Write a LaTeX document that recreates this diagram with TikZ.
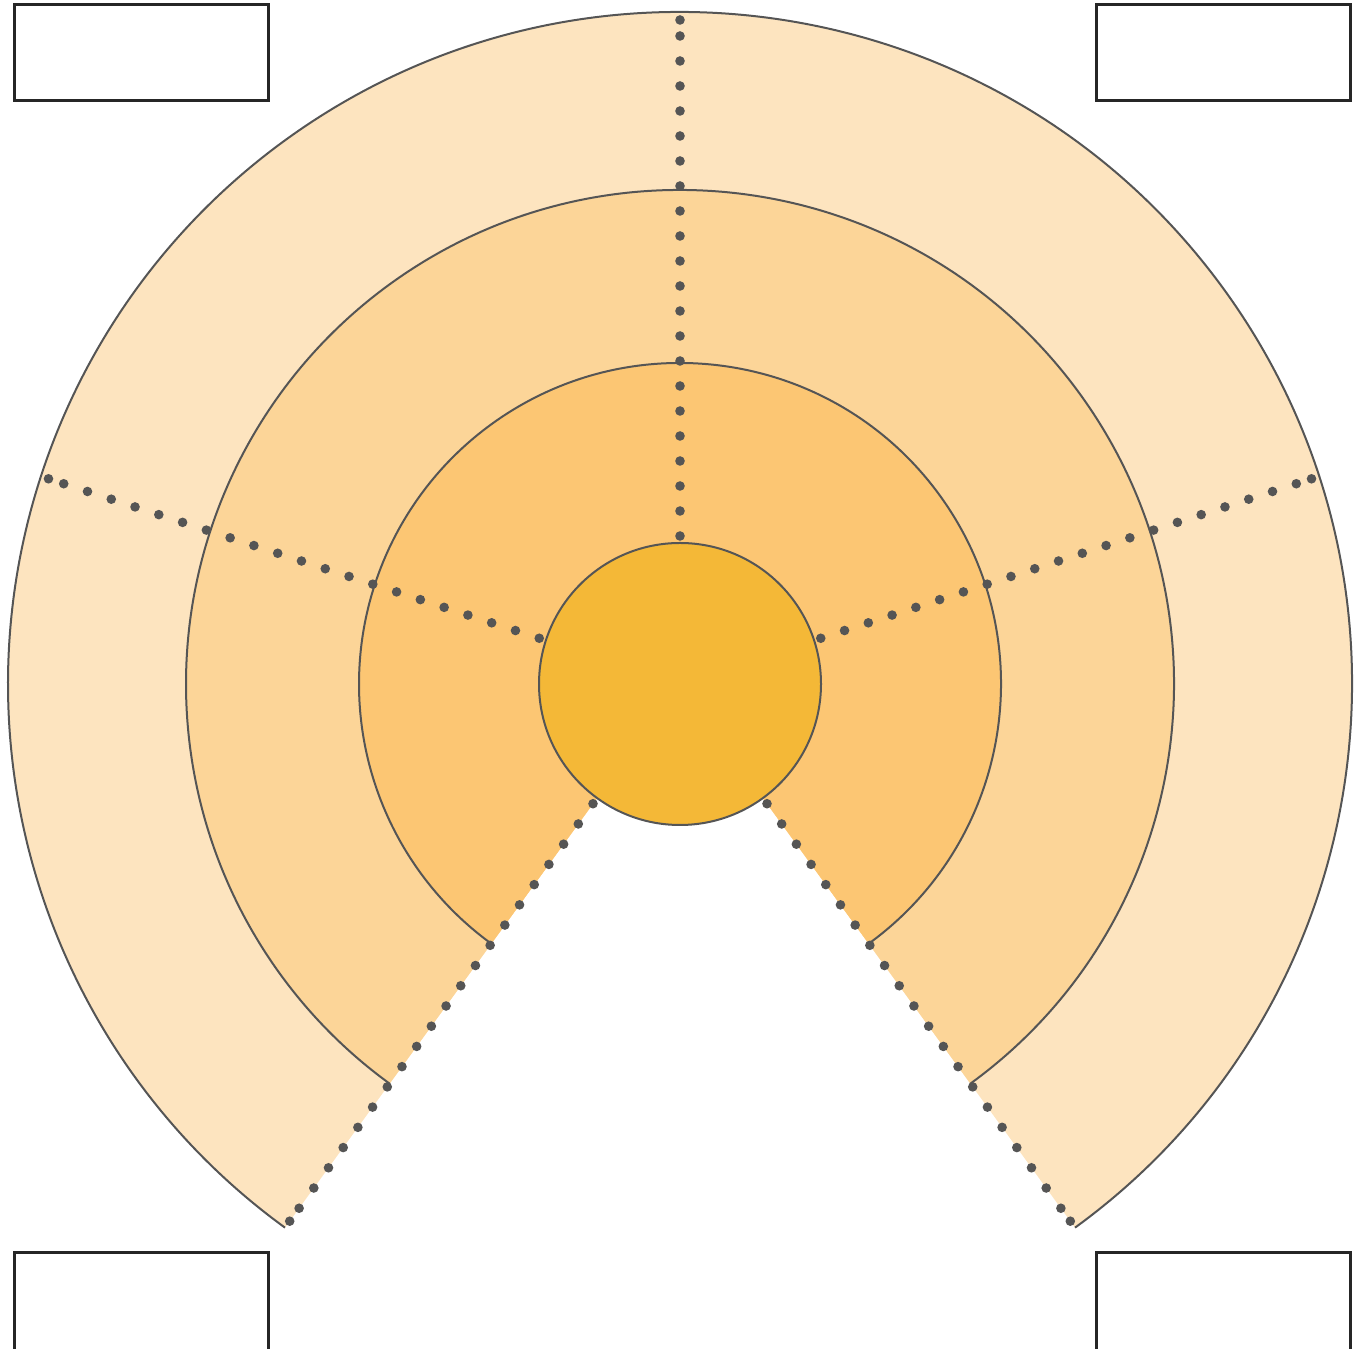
\documentclass[tikz,border=0pt]{standalone}
\usetikzlibrary{calc}
\definecolor{ringA}{HTML}{FDE4BF}
\definecolor{ringB}{HTML}{FCD598}
\definecolor{ringC}{HTML}{FCC673}
\definecolor{core}{HTML}{F4B837}
\definecolor{edge}{HTML}{555555}
\definecolor{boxedge}{HTML}{262626}
\begin{document}
\begin{tikzpicture}[x=1pt,y=1pt,
  ringline/.style={draw=edge,line width=2pt},
  dotmark/.style={fill=edge},
  box/.style={draw=boxedge,fill=white,line width=3pt,minimum width=254pt,minimum height=96pt,inner sep=0pt},
  lowbox/.style={box,minimum height=100pt}]
\useasboundingbox (0,0) rectangle (1360,1349);
\clip (0,0) rectangle (1360,1349);
\coordinate (C) at (680,665);
% sectors
\foreach \r/\col in {672/ringA,494/ringB,321/ringC}{
  \fill[\col] (C) -- ($(C)+(-54:\r)$) arc[start angle=-54,end angle=234,radius=\r] -- cycle;
  \draw[ringline] ($(C)+(-54:\r)$) arc[start angle=-54,end angle=234,radius=\r];
}
% dotted rays
\foreach \a in {-54,18,90,162,234}{
  \foreach \k in {0,...,20}{
    \fill[dotmark] ($(C)+(\a:148+25*\k)$) circle[radius=4.8pt];
  }
  \fill[dotmark] ($(C)+(\a:664)$) circle[radius=4.8pt];
}
% core
\draw[ringline,fill=core] (C) circle[radius=141];
% boxes
\node[box] (tl) at (141,1296) {};
\node[box] (tr) at (1223,1296) {};
\node[lowbox] (bl) at (141,46) {};
\node[lowbox] (br) at (1223,46) {};
\end{tikzpicture}
\end{document}
